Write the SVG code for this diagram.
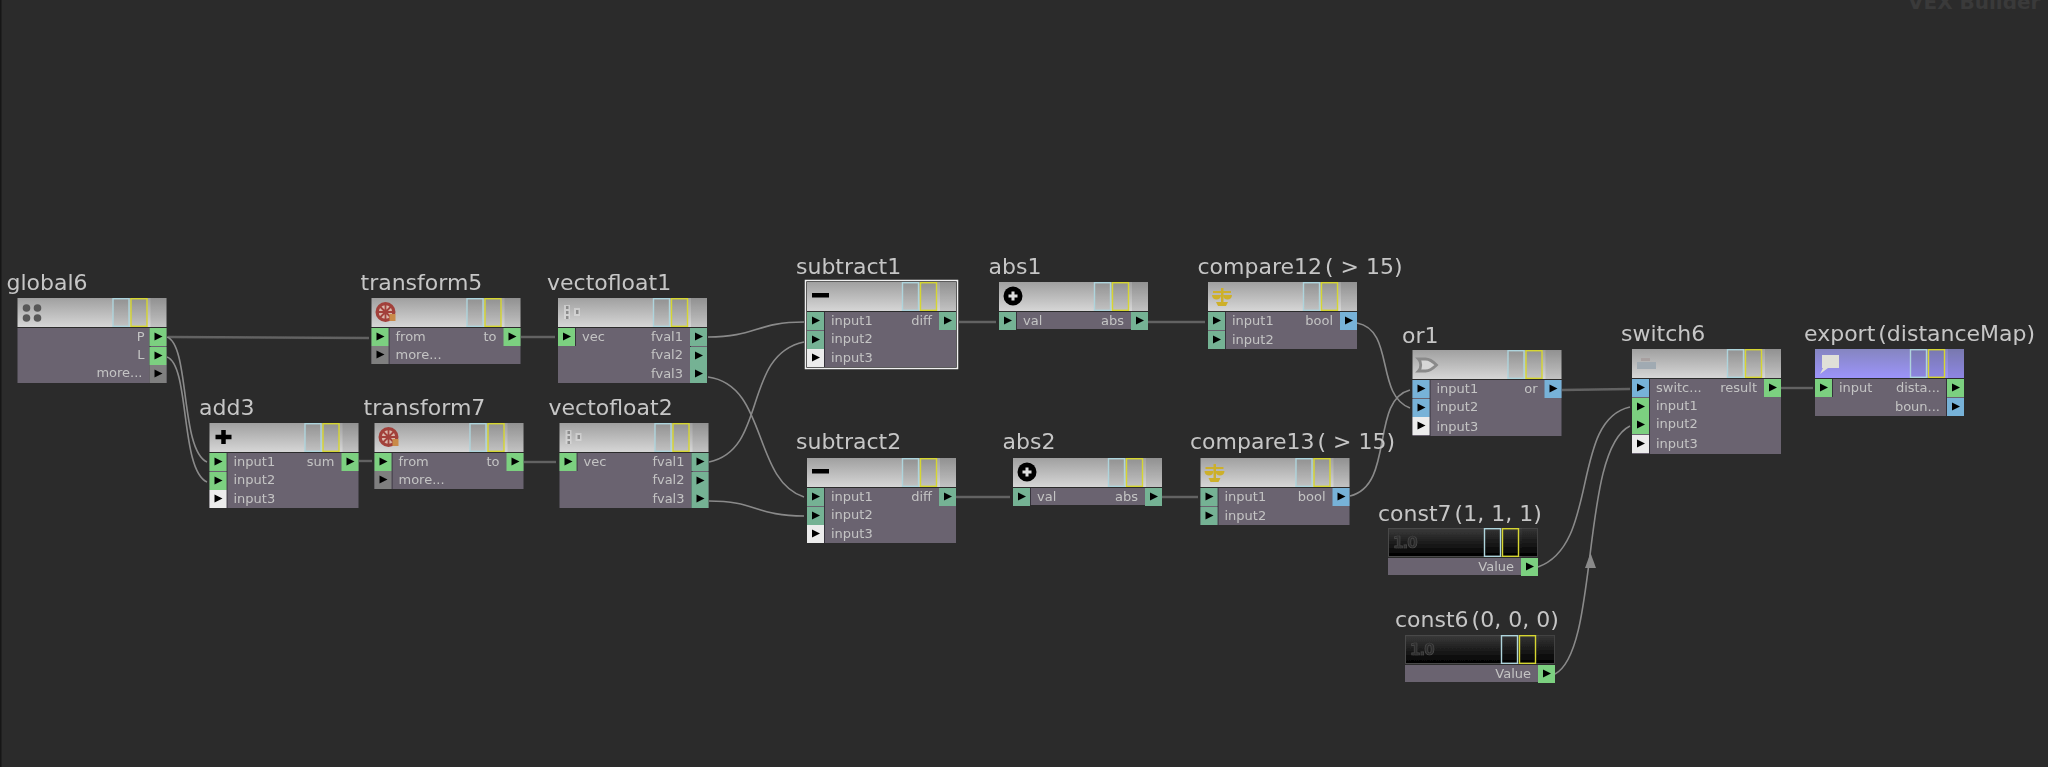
<svg xmlns="http://www.w3.org/2000/svg" width="2048" height="767" viewBox="0 0 2048 767">
<style>
text{font-family:"DejaVu Sans",sans-serif}
.n{font-size:22px;fill:#c6c6c6}
.l{font-size:13px;fill:#c4c4c4}
.r{text-anchor:end}
.hd{fill:url(#hg)}
.hc{fill:url(#hk);stroke:#4a4a4a;stroke-width:1}
.hx{fill:url(#hp)}
.bd{fill:#6a6370}
.sep{fill:#35323a}
.c{fill:none;stroke:#8a8a8a;stroke-width:1.6}
.s{fill:none;stroke:#626262;stroke-width:2.4}
.pg{fill:#7bd080}.pt{fill:#74b294}.pb{fill:#77b2d8}.pw{fill:#ececec}.pk{fill:#7f7f7f}
</style>
<defs>
<filter id="soft" x="0" y="0" width="2048" height="767" filterUnits="userSpaceOnUse"><feGaussianBlur stdDeviation="0.45"/></filter>
<linearGradient id="hg" x1="0" y1="0" x2="0" y2="1"><stop offset="0" stop-color="#a0a0a0"/><stop offset="1" stop-color="#d6d6d6"/></linearGradient>
<linearGradient id="hk" x1="0" y1="0" x2="0" y2="1"><stop offset="0" stop-color="#3a3a3a"/><stop offset="1" stop-color="#000"/></linearGradient>
<linearGradient id="hp" x1="0" y1="0" x2="0" y2="1"><stop offset="0" stop-color="#8585c0"/><stop offset="1" stop-color="#9c94fa"/></linearGradient>
<g id="flags"><rect x="-53.500" y="0.700" width="16" height="27.600" fill="#000" fill-opacity=".09" stroke="#aed4dc" stroke-width="1.400"/><rect x="-35.500" y="0.700" width="16" height="27.600" fill="#000" fill-opacity=".09" stroke="#d6d630" stroke-width="1.400"/><rect x="-16" y="0" width="16" height="29" fill="#000" fill-opacity=".09"/></g>
<path id="t" d="M5 4.5L13 8.5L5 12.5Z" fill="#000"/>
<g id="pg"><rect class="pg" width="17" height="18"/><use href="#t"/></g>
<g id="pt"><rect class="pt" width="17" height="18"/><use href="#t"/></g>
<g id="pb"><rect class="pb" width="17" height="18"/><use href="#t"/></g>
<g id="pw"><rect class="pw" width="17" height="18"/><use href="#t"/></g>
<g id="pk"><rect class="pk" width="17" height="18"/><use href="#t"/></g>
<g id="wheel"><circle cx="14" cy="14" r="10" fill="#a2403a"/><circle cx="14" cy="14" r="6.800" fill="#d9b8ac"/><path d="M14 6V22M6 14H22M8.500 8.500L19.500 19.500M19.500 8.500L8.500 19.500" stroke="#a2403a" stroke-width="1.800"/><rect x="18" y="16" width="6" height="7" fill="#c98a4a"/></g>
<g id="minus"><rect x="5" y="11" width="17" height="4.5" fill="#000"/></g>
<g id="vf"><rect x="6" y="7" width="6" height="14" fill="#e6e6e6" fill-opacity=".5"/><rect x="16" y="10" width="6" height="8" fill="#e6e6e6" fill-opacity=".5"/><g fill="#8c8c8c"><rect x="8" y="8" width="2.500" height="3"/><rect x="8" y="13" width="2.500" height="3"/><rect x="8" y="18" width="2.500" height="3"/><rect x="18" y="12" width="2.500" height="4"/></g></g>
<g id="absi"><circle cx="14" cy="14" r="9.500" fill="#000"/><path d="M14 9.500V18.500M9.500 14H18.500" stroke="#ddd" stroke-width="3"/></g>
<g id="scale"><g fill="#cdb02c"><rect x="13" y="6" width="2.500" height="15"/><rect x="5" y="9" width="18" height="2"/><path d="M4 13H13C13 19 4 19 4 13ZM15 13H24C24 19 15 19 15 13Z"/><path d="M8 20H20L18 24H10Z"/></g></g>
<g id="gate"><path d="M6 9H13C17 9 21 12 24 15C21 18 17 21 13 21H6C9 18 9 12 6 9Z" fill="#d6d6d6" stroke="#8a8a8a" stroke-width="2.800"/></g>
<g id="cv"><text x="5" y="20" style="font-size:15px;font-weight:bold;letter-spacing:-1px" fill="#2e2e2e" stroke="#4c4c4c" stroke-width=".7">1.0</text></g>
</defs>
<rect width="2048" height="767" fill="#2b2b2b"/>
<rect width="1.5" height="767" fill="#161616"/>
<text x="1908" y="9" style="font-size:20px;font-weight:bold" fill="#3a3a3a">VEX Builder</text>
<g filter="url(#soft)">
<g id="connectors">
<path class="s" d="M168 337L369 338"/>
<path class="c" d="M167 337C190 345 180 450 207 462"/>
<path class="c" d="M167 357C190 365 180 470 207 482"/>
<path class="s" d="M359 461L372 461"/>
<path class="s" d="M521 337L555 337"/>
<path class="s" d="M524 462L556 462"/>
<path class="c" d="M708 337C756 337 756 322 804 322"/>
<path class="c" d="M708 377C768 385 752 480 804 497"/>
<path class="c" d="M709 462C768 450 742 355 804 342"/>
<path class="c" d="M709 501C756 501 756 516 804 516"/>
<path class="s" d="M959 322L996 322"/>
<path class="s" d="M956 497L1010 497"/>
<path class="s" d="M1148 322L1205 322"/>
<path class="s" d="M1162 497L1198 497"/>
<path class="c" d="M1357 323C1395 330 1375 395 1410 408"/>
<path class="c" d="M1350 496C1395 485 1370 400 1410 390"/>
<path class="s" d="M1562 390L1630 389"/>
<path class="c" d="M1538 567C1600 545 1570 420 1630 407"/>
<path class="c" d="M1555 674C1600 650 1580 450 1630 426"/>
<path class="s" d="M1781 388L1813 388"/>
<path d="M1590.500 553L1596 568H1585Z" fill="#8a8a8a"/>
</g>
<g id="global6" transform="translate(17.500,298)"><text class="n" x="-11" y="-8">global6</text><rect class="hd" width="149" height="29"/><use href="#flags" x="149"/><rect class="bd" y="30" width="149" height="55"/><rect class="sep" x="132" y="30" width="1" height="55"/><g fill="#585858"><circle cx="9" cy="10" r="3.800"/><circle cx="20" cy="10" r="3.800"/><circle cx="9" cy="20" r="3.800"/><circle cx="20" cy="20" r="3.800"/></g><text class="l r" x="127" y="43">P</text><text class="l r" x="127" y="61">L</text><text class="l r" x="125" y="79">more...</text><use href="#pg" x="132" y="30"/><use href="#pg" x="132" y="49"/><use href="#pk" x="132" y="67"/></g>
<g id="transform5" transform="translate(371.500,298)"><text class="n" x="-11" y="-8">transform5</text><rect class="hd" width="149" height="29"/><use href="#flags" x="149"/><rect class="bd" y="30" width="149" height="36"/><rect class="sep" x="17" y="30" width="1" height="36"/><use href="#wheel"/><use href="#pg" y="30"/><use href="#pk" y="48"/><use href="#pg" x="132" y="30"/><text class="l" x="24" y="43">from</text><text class="l" x="24" y="61">more...</text><text class="l r" x="125" y="43">to</text></g>
<g id="add3" transform="translate(209.500,423)"><text class="n" x="-10.500" y="-8">add3</text><rect class="hd" width="149" height="29"/><use href="#flags" x="149"/><rect class="bd" y="30" width="149" height="55"/><rect class="sep" x="17" y="30" width="1" height="55"/><path d="M14 7V21M6 14H22" stroke="#000" stroke-width="4.500"/><use href="#pg" y="30"/><use href="#pg" y="49"/><use href="#pw" y="67"/><use href="#pg" x="132" y="30"/><text class="l" x="24" y="43">input1</text><text class="l" x="24" y="61">input2</text><text class="l" x="24" y="80">input3</text><text class="l r" x="125" y="43">sum</text></g>
<g id="transform7" transform="translate(374.500,423)"><text class="n" x="-11" y="-8">transform7</text><rect class="hd" width="149" height="29"/><use href="#flags" x="149"/><rect class="bd" y="30" width="149" height="36"/><rect class="sep" x="17" y="30" width="1" height="36"/><use href="#wheel"/><use href="#pg" y="30"/><use href="#pk" y="48"/><use href="#pg" x="132" y="30"/><text class="l" x="24" y="43">from</text><text class="l" x="24" y="61">more...</text><text class="l r" x="125" y="43">to</text></g>
<g id="vectofloat1" transform="translate(558,298)"><text class="n" x="-11" y="-8">vectofloat1</text><rect class="hd" width="149" height="29"/><use href="#flags" x="149"/><rect class="bd" y="30" width="149" height="55"/><rect class="sep" x="17" y="30" width="1" height="18"/><rect class="sep" x="132" y="30" width="1" height="55"/><use href="#vf"/><use href="#pg" y="30"/><use href="#pt" x="132" y="30"/><use href="#pt" x="132" y="49"/><use href="#pt" x="132" y="67"/><text class="l" x="24" y="43">vec</text><text class="l r" x="125" y="43">fval1</text><text class="l r" x="125" y="61">fval2</text><text class="l r" x="125" y="80">fval3</text></g>
<g id="vectofloat2" transform="translate(559.500,423)"><text class="n" x="-11" y="-8">vectofloat2</text><rect class="hd" width="149" height="29"/><use href="#flags" x="149"/><rect class="bd" y="30" width="149" height="55"/><rect class="sep" x="17" y="30" width="1" height="18"/><rect class="sep" x="132" y="30" width="1" height="55"/><use href="#vf"/><use href="#pg" y="30"/><use href="#pt" x="132" y="30"/><use href="#pt" x="132" y="49"/><use href="#pt" x="132" y="67"/><text class="l" x="24" y="43">vec</text><text class="l r" x="125" y="43">fval1</text><text class="l r" x="125" y="61">fval2</text><text class="l r" x="125" y="80">fval3</text></g>
<g id="subtract1" transform="translate(807,282)"><text class="n" x="-11" y="-8">subtract1</text><rect x="-1.500" y="-1.500" width="152" height="88" fill="none" stroke="#f0f0f0" stroke-width="1.500"/><rect class="hd" width="149" height="29"/><use href="#flags" x="149"/><rect class="bd" y="30" width="149" height="55"/><rect class="sep" x="17" y="30" width="1" height="55"/><use href="#minus"/><use href="#pt" y="30"/><use href="#pt" y="49"/><use href="#pw" y="67"/><use href="#pt" x="132" y="30"/><text class="l" x="24" y="43">input1</text><text class="l" x="24" y="61">input2</text><text class="l" x="24" y="80">input3</text><text class="l r" x="125" y="43">diff</text></g>
<g id="subtract2" transform="translate(807,458)"><text class="n" x="-11" y="-9">subtract2</text><rect class="hd" width="149" height="29"/><use href="#flags" x="149"/><rect class="bd" y="30" width="149" height="55"/><rect class="sep" x="17" y="30" width="1" height="55"/><use href="#minus"/><use href="#pt" y="30"/><use href="#pt" y="49"/><use href="#pw" y="67"/><use href="#pt" x="132" y="30"/><text class="l" x="24" y="43">input1</text><text class="l" x="24" y="61">input2</text><text class="l" x="24" y="80">input3</text><text class="l r" x="125" y="43">diff</text></g>
<g id="abs1" transform="translate(999,282)"><text class="n" x="-10.500" y="-8">abs1</text><rect class="hd" width="149" height="29"/><use href="#flags" x="149"/><rect class="bd" y="30" width="149" height="17"/><rect class="sep" x="17" y="30" width="1" height="17"/><use href="#absi"/><use href="#pt" y="30"/><use href="#pt" x="132" y="30"/><text class="l" x="24" y="43">val</text><text class="l r" x="125" y="43">abs</text></g>
<g id="abs2" transform="translate(1013,458)"><text class="n" x="-10.500" y="-9">abs2</text><rect class="hd" width="149" height="29"/><use href="#flags" x="149"/><rect class="bd" y="30" width="149" height="17"/><rect class="sep" x="17" y="30" width="1" height="17"/><use href="#absi"/><use href="#pt" y="30"/><use href="#pt" x="132" y="30"/><text class="l" x="24" y="43">val</text><text class="l r" x="125" y="43">abs</text></g>
<g id="compare12" transform="translate(1208,282)"><text class="n" x="-10.500" y="-8">compare12<tspan dx="3">( &gt; 15)</tspan></text><rect class="hd" width="149" height="29"/><use href="#flags" x="149"/><rect class="bd" y="30" width="149" height="37"/><rect class="sep" x="17" y="30" width="1" height="37"/><use href="#scale"/><use href="#pt" y="30"/><use href="#pt" y="49"/><use href="#pb" x="132" y="30"/><text class="l" x="24" y="43">input1</text><text class="l" x="24" y="62">input2</text><text class="l r" x="125" y="43">bool</text></g>
<g id="compare13" transform="translate(1200.500,458)"><text class="n" x="-10.500" y="-9">compare13<tspan dx="3">( &gt; 15)</tspan></text><rect class="hd" width="149" height="29"/><use href="#flags" x="149"/><rect class="bd" y="30" width="149" height="37"/><rect class="sep" x="17" y="30" width="1" height="37"/><use href="#scale"/><use href="#pt" y="30"/><use href="#pt" y="49"/><use href="#pb" x="132" y="30"/><text class="l" x="24" y="43">input1</text><text class="l" x="24" y="62">input2</text><text class="l r" x="125" y="43">bool</text></g>
<g id="or1" transform="translate(1412.500,350)"><text class="n" x="-10.500" y="-7">or1</text><rect class="hd" width="149" height="29"/><use href="#flags" x="149"/><rect class="bd" y="30" width="149" height="56"/><rect class="sep" x="17" y="30" width="1" height="56"/><use href="#gate"/><use href="#pb" y="30"/><use href="#pb" y="49"/><use href="#pw" y="67"/><use href="#pb" x="132" y="30"/><text class="l" x="24" y="43">input1</text><text class="l" x="24" y="61">input2</text><text class="l" x="24" y="81">input3</text><text class="l r" x="125" y="43">or</text></g>
<g id="const7" transform="translate(1388,528)"><text class="n" x="-10" y="-7">const7<tspan dx="3">(1, 1, 1)</tspan></text><rect class="hc" x=".5" y=".5" width="149" height="28"/><use href="#flags" x="150"/><use href="#cv"/><rect class="bd" y="30" width="150" height="17"/><use href="#pg" x="133" y="30"/><text class="l r" x="126" y="43">Value</text></g>
<g id="const6" transform="translate(1405,635)"><text class="n" x="-10" y="-8">const6<tspan dx="3">(0, 0, 0)</tspan></text><rect class="hc" x=".5" y=".5" width="149" height="28"/><use href="#flags" x="150"/><use href="#cv"/><rect class="bd" y="30" width="150" height="17"/><use href="#pg" x="133" y="30"/><text class="l r" x="126" y="43">Value</text></g>
<g id="switch6" transform="translate(1632,349)"><text class="n" x="-11" y="-8">switch6</text><rect class="hd" width="149" height="29"/><use href="#flags" x="149"/><rect class="bd" y="30" width="149" height="75"/><rect class="sep" x="17" y="30" width="1" height="75"/><rect x="5" y="13" width="19" height="7" fill="#a0aab2"/><rect x="9" y="9" width="9" height="3" fill="#a8a0a0"/><use href="#pb" y="30"/><use href="#pg" y="49"/><use href="#pg" y="67"/><use href="#pw" y="86"/><use href="#pg" x="132" y="30"/><text class="l" x="24" y="43">switc...</text><text class="l" x="24" y="61">input1</text><text class="l" x="24" y="79">input2</text><text class="l" x="24" y="99">input3</text><text class="l r" x="125" y="43">result</text></g>
<g id="export" transform="translate(1815,349)"><text class="n" x="-11" y="-8">export<tspan dx="3">(distanceMap)</tspan></text><rect class="hx" width="149" height="29"/><use href="#flags" x="149"/><rect class="bd" y="30" width="149" height="37"/><rect class="sep" x="17" y="30" width="1" height="18"/><rect class="sep" x="131" y="30" width="1" height="37"/><path d="M7 6H24V19H13L5 25L8 19H7Z" fill="#e0e0d8"/><use href="#pg" y="30"/><use href="#pg" x="132" y="30"/><use href="#pb" x="132" y="49"/><text class="l" x="24" y="43">input</text><text class="l r" x="125" y="43">dista...</text><text class="l r" x="125" y="62">boun...</text></g>
</g>
</svg>
